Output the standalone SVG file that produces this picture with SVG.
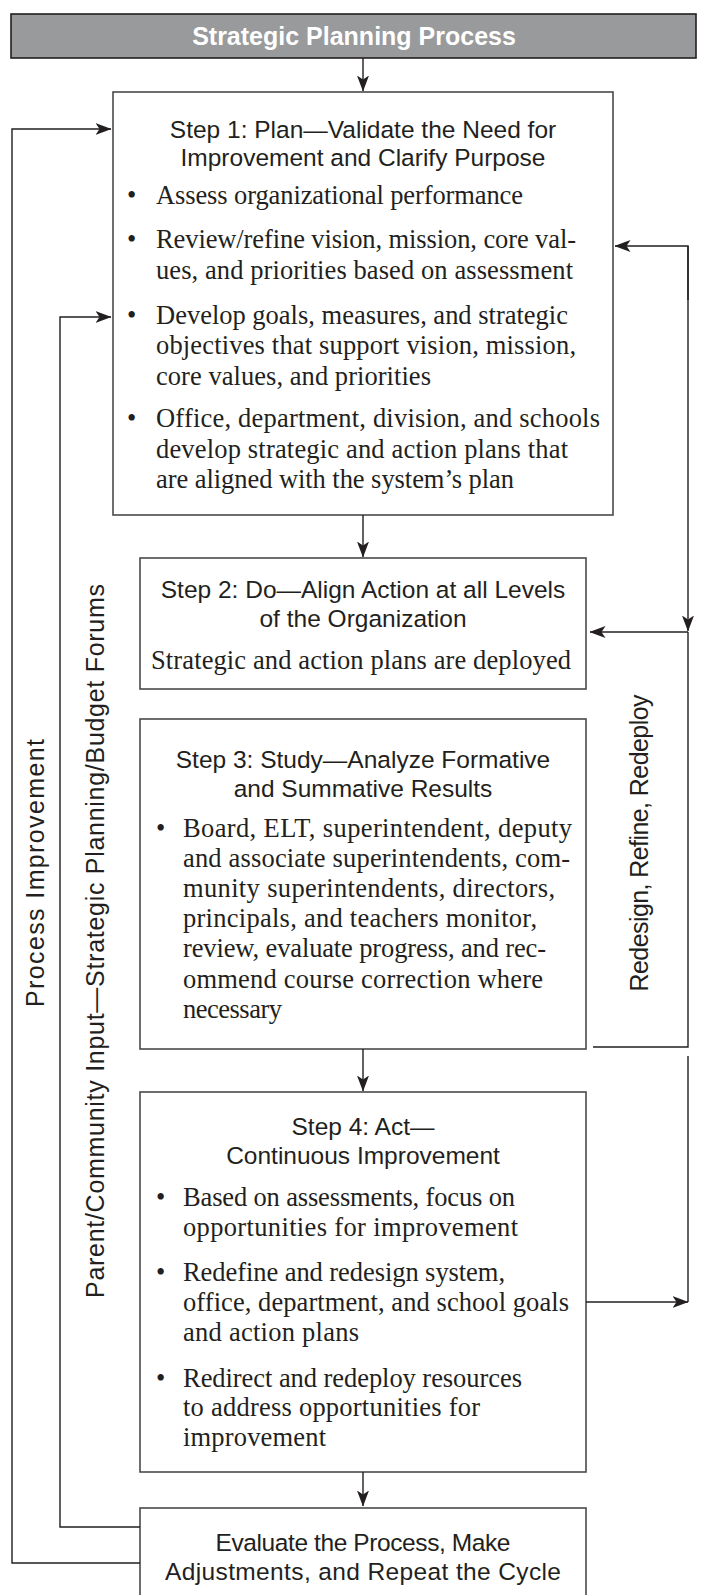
<svg xmlns="http://www.w3.org/2000/svg" width="704" height="1595" viewBox="0 0 704 1595">
<defs>
<marker id="ah" viewBox="0 0 16 12" refX="15.5" refY="6" markerWidth="16" markerHeight="12" markerUnits="userSpaceOnUse" orient="auto">
<path d="M0,0 L16,6 L0,12 L4,6 z" fill="#231f20"/>
</marker>
<style>
.box{fill:#fff;stroke:#4a4a4a;stroke-width:1.6}
.hd{font-family:"Liberation Sans",Arial,sans-serif;font-size:24.5px;fill:#231f20;text-anchor:middle}
.bd{font-family:"Liberation Serif","Times New Roman",serif;font-size:26.5px;fill:#231f20}
.lab{font-family:"Liberation Sans",Arial,sans-serif;font-size:25px;fill:#231f20;text-anchor:middle}
.ln{fill:none;stroke:#231f20;stroke-width:1.4}
.arr{fill:none;stroke:#231f20;stroke-width:1.4;marker-end:url(#ah)}
</style>
</defs>
<rect width="704" height="1595" fill="#fff"/>

<g id="title">
<rect x="11" y="14" width="685" height="44" fill="#999a9c" stroke="#231f20" stroke-width="1.6"/>
<text x="354" y="45" font-family="'Liberation Sans',Arial,sans-serif" font-weight="bold" font-size="25px" fill="#fff" text-anchor="middle">Strategic Planning Process</text>
</g>

<g id="step1">
<rect class="box" x="113" y="92" width="500" height="423"/>
<text class="hd" x="363" y="138">Step 1: Plan—Validate the Need for</text>
<text class="hd" x="363" y="166">Improvement and Clarify Purpose</text>
<text class="bd" x="127" y="204">•</text>
<text class="bd" x="156" y="204" textLength="367">Assess organizational performance</text>
<text class="bd" x="127" y="248">•</text>
<text class="bd" x="156" y="248" textLength="420">Review/refine vision, mission, core val-</text>
<text class="bd" x="156" y="279" textLength="417">ues, and priorities based on assessment</text>
<text class="bd" x="127" y="324">•</text>
<text class="bd" x="156" y="324" textLength="412">Develop goals, measures, and strategic</text>
<text class="bd" x="156" y="354" textLength="420">objectives that support vision, mission,</text>
<text class="bd" x="156" y="385" textLength="275">core values, and priorities</text>
<text class="bd" x="127" y="427">•</text>
<text class="bd" x="156" y="427" textLength="444">Office, department, division, and schools</text>
<text class="bd" x="156" y="458" textLength="412">develop strategic and action plans that</text>
<text class="bd" x="156" y="488" textLength="358">are aligned with the system’s plan</text>
</g>

<g id="step2">
<rect class="box" x="140" y="558" width="446" height="131"/>
<text class="hd" x="363" y="598">Step 2: Do—Align Action at all Levels</text>
<text class="hd" x="363" y="627">of the Organization</text>
<text class="bd" x="151" y="669" textLength="420">Strategic and action plans are deployed</text>
</g>

<g id="step3">
<rect class="box" x="140" y="719" width="446" height="330"/>
<text class="hd" x="363" y="768">Step 3: Study—Analyze Formative</text>
<text class="hd" x="363" y="797">and Summative Results</text>
<text class="bd" x="156" y="837">•</text>
<text class="bd" x="183" y="837" textLength="389">Board, ELT, superintendent, deputy</text>
<text class="bd" x="183" y="867" textLength="387">and associate superintendents, com-</text>
<text class="bd" x="183" y="897" textLength="372">munity superintendents, directors,</text>
<text class="bd" x="183" y="927" textLength="354">principals, and teachers monitor,</text>
<text class="bd" x="183" y="957" textLength="363">review, evaluate progress, and rec-</text>
<text class="bd" x="183" y="988" textLength="360">ommend course correction where</text>
<text class="bd" x="183" y="1018" textLength="99">necessary</text>
</g>

<g id="step4">
<rect class="box" x="140" y="1092" width="446" height="380"/>
<text class="hd" x="363" y="1135">Step 4: Act—</text>
<text class="hd" x="363" y="1164">Continuous Improvement</text>
<text class="bd" x="156" y="1206">•</text>
<text class="bd" x="183" y="1206" textLength="332">Based on assessments, focus on</text>
<text class="bd" x="183" y="1236" textLength="335">opportunities for improvement</text>
<text class="bd" x="156" y="1281">•</text>
<text class="bd" x="183" y="1281" textLength="322">Redefine and redesign system,</text>
<text class="bd" x="183" y="1311" textLength="386">office, department, and school goals</text>
<text class="bd" x="183" y="1341" textLength="176">and action plans</text>
<text class="bd" x="156" y="1387">•</text>
<text class="bd" x="183" y="1387" textLength="339">Redirect and redeploy resources</text>
<text class="bd" x="183" y="1416" textLength="297">to address opportunities for</text>
<text class="bd" x="183" y="1446" textLength="143">improvement</text>
</g>

<g id="evaluate">
<rect class="box" x="140" y="1508" width="446" height="100"/>
<text class="hd" x="363" y="1551" textLength="295">Evaluate the Process, Make</text>
<text class="hd" x="363" y="1580" textLength="396">Adjustments, and Repeat the Cycle</text>
</g>

<g id="labels">
<text class="lab" transform="translate(44,873) rotate(-90)" textLength="268">Process Improvement</text>
<text class="lab" transform="translate(104,941) rotate(-90)" textLength="714">Parent/Community Input—Strategic Planning/Budget Forums</text>
<text class="lab" transform="translate(648,843) rotate(-90)" textLength="297">Redesign, Refine, Redeploy</text>
</g>

<g id="connectors">
<line class="arr" x1="363" y1="58" x2="363" y2="91"/>
<line class="arr" x1="363" y1="515" x2="363" y2="557"/>
<line class="arr" x1="363" y1="1049" x2="363" y2="1091"/>
<line class="arr" x1="363" y1="1472" x2="363" y2="1506"/>
<polyline class="arr" points="140,1563 12,1563 12,129 111,129"/>
<polyline class="arr" points="140,1527 60,1527 60,317 111,317"/>
<polyline class="arr" points="688,300 688,246 615,246"/>
<line class="arr" x1="688" y1="246" x2="688" y2="631"/>
<line class="arr" x1="688" y1="632" x2="590" y2="632"/>
<polyline class="ln" points="688,632 688,1047 593,1047"/>
<line class="ln" x1="688" y1="1056" x2="688" y2="1302"/>
<line class="arr" x1="586" y1="1302" x2="688" y2="1302"/>
</g>
</svg>
